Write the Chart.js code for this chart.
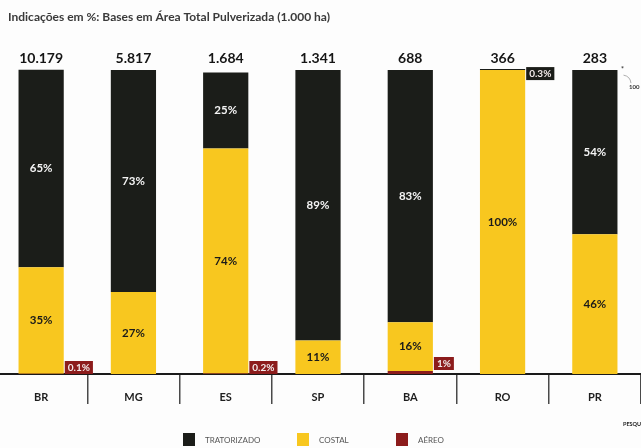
<!DOCTYPE html>
<html lang="pt-BR">
<head>
    <meta charset="UTF-8">
    <title>Área Total Pulverizada</title>
    <script src="https://cdn.jsdelivr.net/npm/chart.js"></script>
    <style>
        html, body {
            margin: 0;
            padding: 0;
            background: #fdfdfd;
            overflow: hidden;
        }
        #wrap {
            position: relative;
            width: 646px;
            height: 448px;
            margin-left: -5px;
        }
    </style>
</head>
<body>
<div id="wrap"><canvas id="pulverChart"></canvas></div>
<script>
    const estados = ['BR', 'MG', 'ES', 'SP', 'BA', 'RO', 'PR'];
    const totalArea = [10179, 5817, 1684, 1341, 688, 366, 283]; // mil ha
    const tratorizado = [65, 73, 25, 89, 83, 0.3, 54];
    const costal = [35, 27, 74, 11, 16, 100, 46];
    const aereo = [0.1, 0, 0.2, 0, 1, 0, 0];

    const COR_TRAT = '#1b1d19';
    const COR_COSTAL = '#f8c71f';
    const COR_AEREO = '#8c1c1c';
    const FONTE = 'Lato, "Open Sans", sans-serif';
    const DX = 5; // o canvas começa 5px à esquerda da página

    function milhar(n) {
        return String(n).replace(/\B(?=(\d{3})+(?!\d))/g, '.');
    }

    function pct(v) {
        return (Number.isInteger(v) ? v : v.toFixed(1)) + '%';
    }

    // texto das barras, totais, título e legenda
    const rotulos = {
        id: 'rotulos',
        afterDatasetsDraw(chart) {
            const ctx = chart.ctx;
            ctx.save();
            ctx.textAlign = 'center';
            ctx.textBaseline = 'middle';

            chart.data.datasets.forEach((ds, di) => {
                const meta = chart.getDatasetMeta(di);
                meta.data.forEach((bar, i) => {
                    const v = ds.data[i];
                    if (!v) return;
                    if (v >= 5) {
                        ctx.font = 'bold 11.5px ' + FONTE;
                        ctx.fillStyle = ds.corTexto;
                        ctx.fillText(pct(v), bar.x, (bar.y + bar.base) / 2);
                    } else {
                        // valores pequenos vão numa caixa ao lado da barra
                        const x0 = bar.x + bar.width / 2 + 1;
                        const h = 12;
                        ctx.font = 'bold 10px ' + FONTE;
                        const bw = Math.max(ctx.measureText(pct(v)).width + 6, 18);
                        const y0 = ds.rotuloNoTopo ? bar.y - 2 : bar.base - h - 1 - (v >= 1 ? 4 : 0);
                        ctx.fillStyle = ds.backgroundColor;
                        ctx.fillRect(x0, y0, bw, h + 1);
                        ctx.fillStyle = '#f2eaea';
                        ctx.fillText(pct(v), x0 + bw / 2, y0 + h / 2 + 1);
                    }
                });
            });

            // totais acima das barras
            const topo = chart.getDatasetMeta(chart.data.datasets.length - 1);
            ctx.font = 'bold 14px ' + FONTE;
            ctx.fillStyle = '#151515';
            topo.data.forEach((bar, i) => {
                ctx.fillText(milhar(totalArea[i]), bar.x, 58);
            });

            // título
            ctx.textAlign = 'left';
            ctx.font = 'bold 12px ' + FONTE;
            ctx.fillStyle = '#3a3a3a';
            ctx.fillText('Indicações em %: Bases em Área Total Pulverizada (1.000 ha)', 8 + DX, 17);

            // nota lateral
            ctx.font = 'bold 7px ' + FONTE;
            ctx.fillStyle = '#333';
            ctx.fillText('*', 621 + DX, 70);
            ctx.font = 'bold 6px ' + FONTE;
            ctx.fillText('100', 629 + DX, 87);
            ctx.strokeStyle = '#999';
            ctx.lineWidth = 0.8;
            ctx.beginPath();
            ctx.arc(622 + DX, 84, 9, -1.4, -0.1);
            ctx.stroke();
            ctx.font = 'bold 5.5px ' + FONTE;
            ctx.fillStyle = '#222';
            ctx.fillText('PESQUISA', 623 + DX, 424);

            // legenda
            const ordem = [2, 1, 0];
            const posX = [183, 297, 396];
            ctx.font = '8px ' + FONTE;
            ordem.forEach((di, k) => {
                const ds = chart.data.datasets[di];
                ctx.fillStyle = ds.backgroundColor;
                ctx.fillRect(posX[k] + DX, 433, 12, 13);
                ctx.fillStyle = '#555';
                ctx.fillText(ds.label, posX[k] + DX + 22, 440);
            });
            ctx.restore();
        }
    };

    const ctx = document.getElementById('pulverChart').getContext('2d');
    new Chart(ctx, {
        type: 'bar',
        data: {
            labels: estados,
            datasets: [
                { label: 'AÉREO', data: aereo, backgroundColor: COR_AEREO, corTexto: '#fff' },
                { label: 'COSTAL', data: costal, backgroundColor: COR_COSTAL, corTexto: '#1a1a1a' },
                { label: 'TRATORIZADO', data: tratorizado, backgroundColor: COR_TRAT, corTexto: '#f4f4f4', rotuloNoTopo: true }
            ]
        },
        options: {
            responsive: true,
            maintainAspectRatio: false,
            animation: false,
            layout: {
                padding: { top: 70, bottom: 42, left: 0, right: 0 }
            },
            datasets: {
                bar: {
                    barPercentage: 0.49,
                    categoryPercentage: 1,
                    clip: false
                }
            },
            plugins: {
                legend: { display: false },
                tooltip: { enabled: false }
            },
            scales: {
                x: {
                    stacked: true,
                    afterFit(scale) {
                        scale.height = 32;
                    },
                    grid: {
                        offset: true,
                        drawOnChartArea: false,
                        tickLength: 30,
                        color: '#4a4a4a',
                        lineWidth: 1.5
                    },
                    border: { display: true, color: '#1a1a1a', width: 2 },
                    ticks: {
                        padding: -13,
                        color: '#1e1e1e',
                        font: { family: FONTE, size: 11, weight: 'bold' }
                    }
                },
                y: {
                    stacked: true,
                    display: false,
                    min: 0,
                    max: 100
                }
            }
        },
        plugins: [rotulos]
    });
</script>
</body>
</html>
